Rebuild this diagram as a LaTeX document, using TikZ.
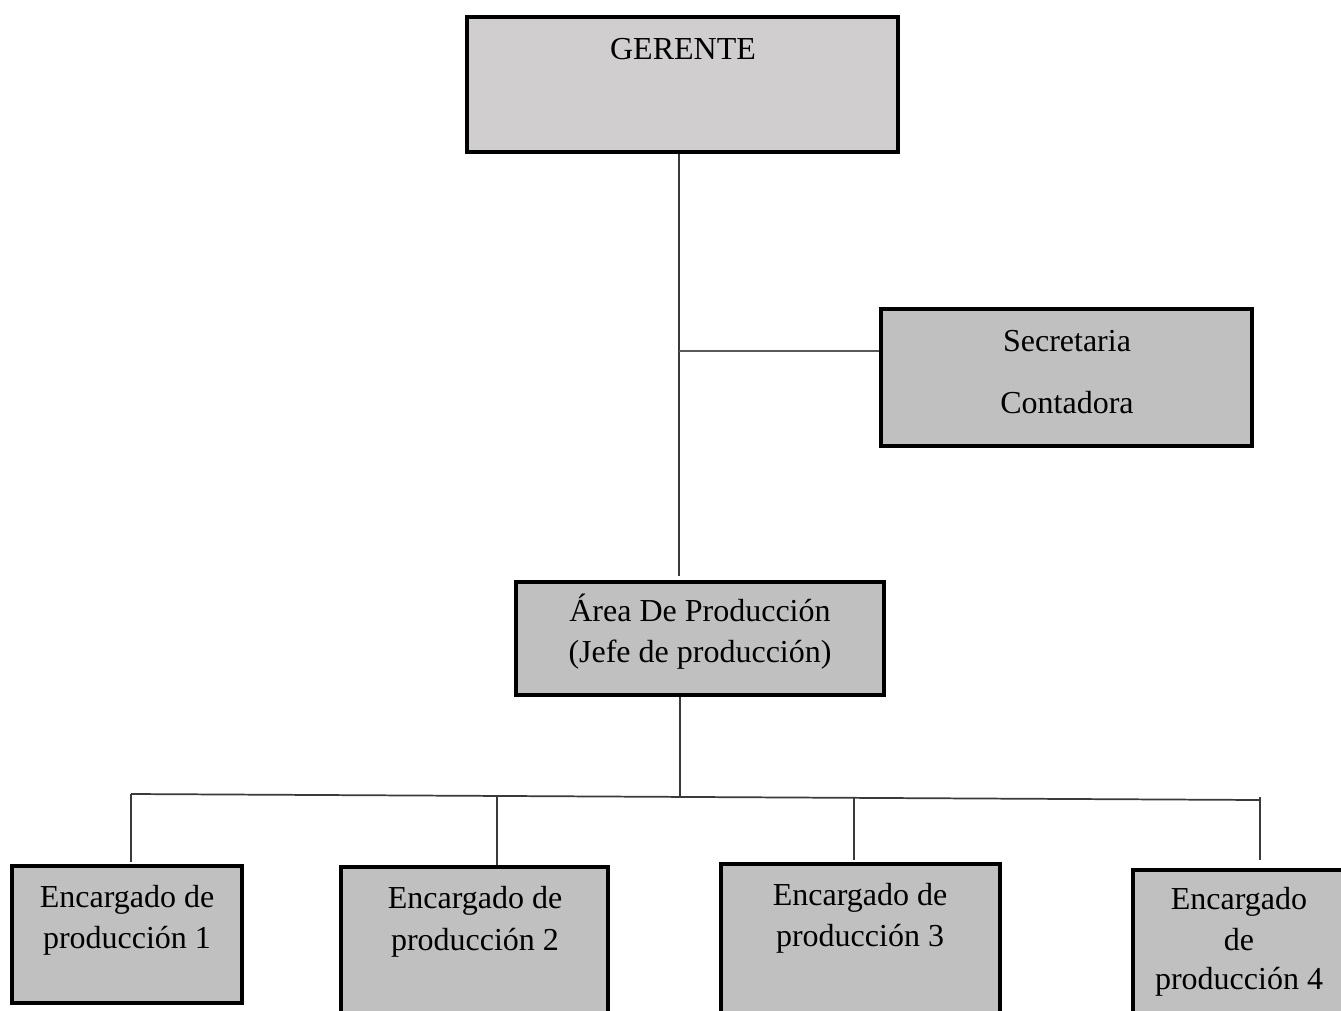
\documentclass[tikz,border=0pt]{standalone}
\usepackage{fontspec}
\setmainfont{Liberation Serif}
\definecolor{boxlight}{HTML}{D0CECF}
\definecolor{boxgray}{HTML}{C0C0C0}
\definecolor{linegray}{HTML}{3A3A3A}
\begin{document}
\begin{tikzpicture}[x=0.75pt,y=-0.75pt,
  box/.style={draw=black,line width=2.4pt,inner sep=0pt,rectangle,fill=boxgray},
  txt/.style={anchor=base,inner sep=0pt,font=\fontsize{24pt}{28pt}\selectfont},
  conn/.style={draw=linegray,line width=1.3pt}]
\useasboundingbox (0,0) rectangle (1341,1010);
% boxes (centre, width, height in px)
\node[box,fill=boxlight,minimum width=323.25pt,minimum height=101.25pt] (ger) at (682.5,84.5) {};
\node[box,minimum width=278.25pt,minimum height=102.75pt] (sec) at (1066.5,377.5) {};
\node[box,minimum width=276pt,minimum height=84.75pt] (area) at (700,638.5) {};
\node[box,minimum width=172.5pt,minimum height=102.75pt] (enc1) at (127,934.5) {};
\node[box,minimum width=200.25pt,minimum height=111.75pt] (enc2) at (474.5,941.5) {};
\node[box,minimum width=209.25pt,minimum height=114pt] (enc3) at (860.5,940) {};
\node[box,minimum width=159pt,minimum height=109.5pt] (enc4) at (1239,943) {};
% texts
\node[txt] (tger) at (683,59) {GERENTE};
\node[txt] (tsec) at (1067,351) {Secretaria};
\node[txt] (tcon) at (1067,413) {Contadora};
\node[txt] (tarea) at (700,621) {Área De Producción};
\node[txt] (tjefe) at (700,662) {(Jefe de producción)};
\node[txt] (te1a) at (127,907) {Encargado de};
\node[txt] (te1b) at (127,948) {producción 1};
\node[txt] (te2a) at (475,908) {Encargado de};
\node[txt] (te2b) at (475,950) {producción 2};
\node[txt] (te3a) at (860,905) {Encargado de};
\node[txt] (te3b) at (860,946) {producción 3};
\node[txt] (te4a) at (1239,909) {Encargado};
\node[txt] (te4b) at (1239,950) {de};
\node[txt] (te4c) at (1239,989) {producción 4};
% connectors
\coordinate (mid) at (679,351);
\coordinate (areaT) at (679,576);
\coordinate (busM) at (680,796.5);
\coordinate (busL) at (131,794);
\coordinate (busR) at (1260,800);
\coordinate (b2) at (497,796);
\coordinate (b3) at (854,798);
\coordinate (b4) at (1260,797);
\coordinate (e1) at (131,862);
\coordinate (e3) at (854,860);
\coordinate (e4) at (1260,860);
\draw[conn] (ger.south -| mid) -- (mid) -- (areaT);
\draw[conn,draw=black!65] (mid) -- (sec.west |- mid);
\draw[conn] (area.south -| busM) -- (busM);
\draw[conn] (busL) -- (busR);
\draw[conn] (busL) -- (e1);
\draw[conn] (b2) -- (enc2.north -| b2);
\draw[conn] (b3) -- (e3);
\draw[conn] (b4) -- (e4);
\end{tikzpicture}
\end{document}
